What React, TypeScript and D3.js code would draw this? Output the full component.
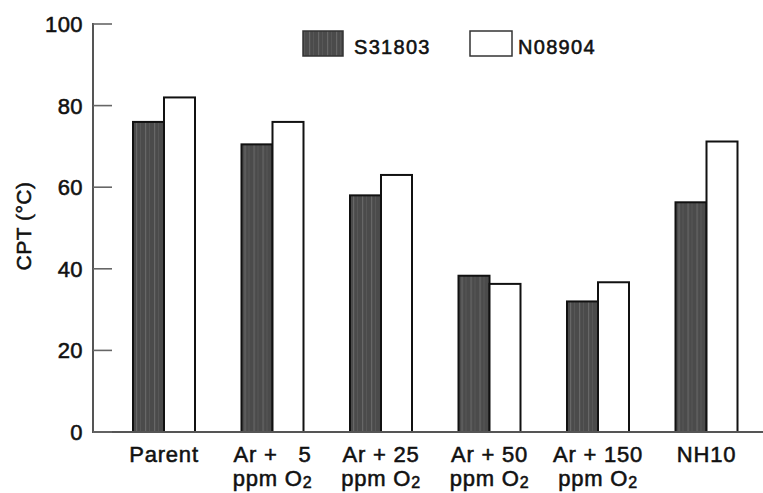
import React from 'react';
import * as d3 from 'd3';

// values
const categories = ['Parent', 'Ar + 5', 'Ar + 25', 'Ar + 50', 'Ar + 150', 'NH10'];
const labelLine1 = ['Parent', 'Ar +   5', 'Ar + 25', 'Ar + 50', 'Ar + 150', 'NH10'];
const labelLine2 = ['', 'ppm O', 'ppm O', 'ppm O', 'ppm O', ''];
const seriesNames = ['S31803', 'N08904'];
const s31803 = [76, 70.5, 58, 38.3, 32, 56.3];
const n08904 = [82, 76, 63, 36.3, 36.7, 71.2];
const yTicks = [0, 20, 40, 60, 80, 100];

const W = 763;
const H = 493;
const font = '"Liberation Sans", Arial, Helvetica, sans-serif';

// scanned type looks heavier, so thicken the glyphs a bit
const txt = {fontFamily: font, fill: '#111', stroke: '#111', strokeWidth: 0.55};

const App = () => {
    const axisX = 93;
    const axisY = 432;

    const yScale = d3.scaleLinear().domain([0, 100]).range([axisY, 24]);

    const xScale = d3.scaleBand<string>()
        .domain(categories)
        .range([133, 737.5])
        .paddingInner(0.4286)
        .paddingOuter(0);

    const inner = d3.scaleBand<string>()
        .domain(seriesNames)
        .range([0, xScale.bandwidth()]);

    const values = [s31803, n08904];
    const fills = ['url(#streaks)', '#ffffff'];

    return (
        <svg width={W} height={H} style={{position: 'absolute', left: 0, top: 0, background: '#fff'}}>
            <defs>
                <pattern id="streaks" width="9" height="6" patternUnits="userSpaceOnUse">
                    <rect width="9" height="6" fill="#4b4b4b"/>
                    <rect x="3" width="1.2" height="6" fill="#676767"/>
                    <rect x="7" width="0.8" height="6" fill="#5a5a5a"/>
                </pattern>
            </defs>

            {/* bars */}
            {categories.map((c, i) => (
                <g key={c} transform={`translate(${xScale(c)},0)`}>
                    {seriesNames.map((s, j) => (
                        <rect key={s}
                              x={inner(s)}
                              y={yScale(values[j][i])}
                              width={inner.bandwidth()}
                              height={axisY - yScale(values[j][i])}
                              fill={fills[j]}
                              stroke="#111"
                              strokeWidth={2}/>
                    ))}
                </g>
            ))}

            {/* axes */}
            <line x1={axisX} x2={axisX} y1={yScale(100) - 1} y2={axisY + 1} stroke="#555" strokeWidth={2}/>
            <line x1={axisX} x2={W} y1={axisY} y2={axisY} stroke="#555" strokeWidth={2}/>
            {yTicks.map(t => (
                <g key={t}>
                    <line x1={axisX} x2={axisX + 19} y1={yScale(t)} y2={yScale(t)} stroke="#666" strokeWidth={1.6}/>
                    <text x={83} y={yScale(t) + 8} textAnchor="end" fontSize={22} letterSpacing={0.4}
                          {...txt}>{t}</text>
                </g>
            ))}

            {/* y title */}
            <text transform="translate(31,226) rotate(-90)" textAnchor="middle" fontSize={21}
                  letterSpacing={0.5} {...txt}>CPT (°C)</text>

            {/* x labels */}
            {categories.map((c, i) => {
                const cx = (xScale(c) as number) + xScale.bandwidth() / 2;
                return (
                    <g key={c} fontSize={22} textAnchor="middle" letterSpacing={0.8} {...txt}>
                        <text x={cx} y={462} style={{whiteSpace: 'pre'}}>{labelLine1[i]}</text>
                        {labelLine2[i] && (
                            <text x={cx} y={486}>
                                {labelLine2[i]}
                                <tspan fontSize={16} dy={2}>2</tspan>
                            </text>
                        )}
                    </g>
                );
            })}

            {/* legend */}
            <rect x={303} y={31} width={40} height={25} fill="url(#streaks)" stroke="#333" strokeWidth={1.5}/>
            <text x={354} y={54} fontSize={20} letterSpacing={1.3} {...txt}>{seriesNames[0]}</text>
            <rect x={470} y={31} width={42} height={25} fill="#fff" stroke="#333" strokeWidth={1.5}/>
            <text x={518} y={54} fontSize={20} letterSpacing={1.3} {...txt}>{seriesNames[1]}</text>
        </svg>
    );
};

export default App;
